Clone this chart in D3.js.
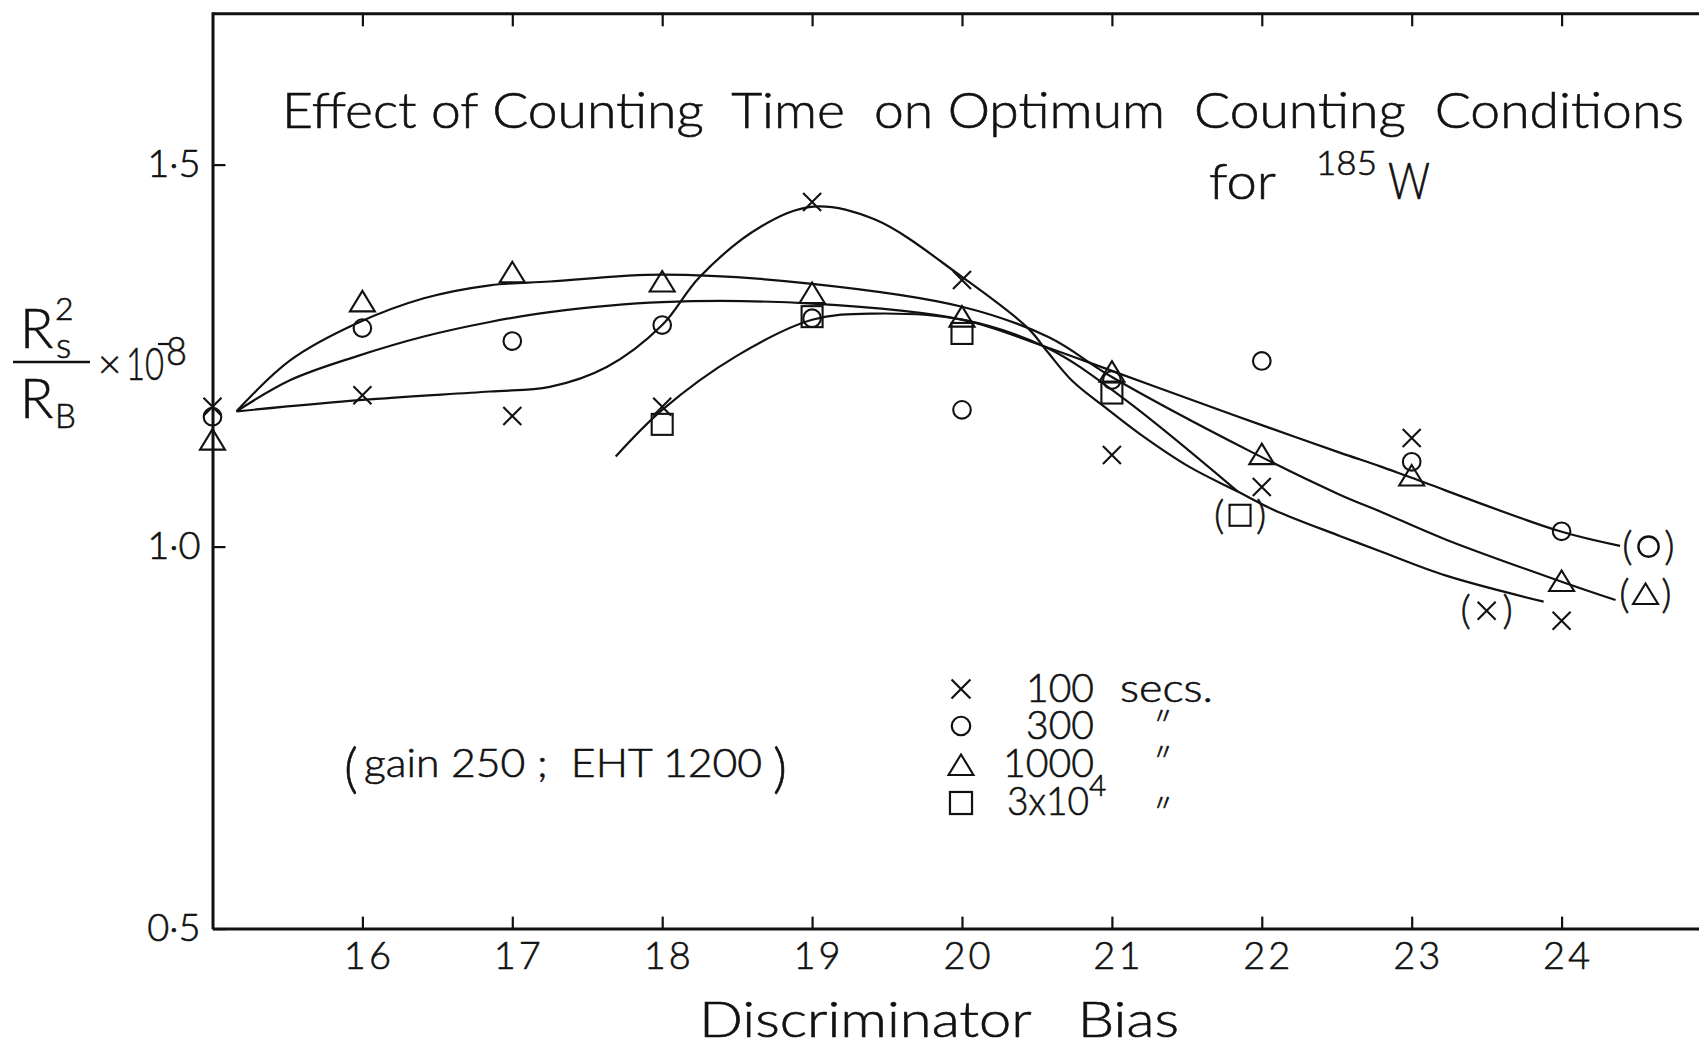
<!DOCTYPE html>
<html><head><meta charset="utf-8">
<script src="https://cdn.jsdelivr.net/npm/d3@7"></script>
<style>
html,body{margin:0;padding:0;background:#fff;}
svg{display:block;background:#fff;}
text{font-family:Lato,'Open Sans',sans-serif;font-weight:300;fill:#111;stroke:#111;stroke-width:0.6px;white-space:pre;}
</style></head><body>
<svg id="chart" width="1699" height="1048"></svg>
<script>
// ---------- data ----------
const bias = [15, 16, 17, 18, 19, 20, 21, 22, 23, 24];
const ratio100s  = [1.183, 1.198, 1.171, 1.183, 1.451, 1.349, 1.120, 1.078, 1.142, 0.903];
const ratio300s  = [1.170, 1.286, 1.269, 1.290, 1.299, 1.179, 1.218, 1.243, 1.111, 1.020];
const ratio1000s = [1.140, 1.321, 1.359, 1.347, 1.332, 1.301, 1.229, 1.121, 1.093, 0.955];
const bias3e4    = [18, 19, 20, 21, 21.855];
const ratio3e4s  = [1.160, 1.301, 1.279, 1.201, 1.041];

// hand-drawn fitted curves, [bias, ratio]
const curve100s = [[15.16,1.177],[16.0,1.192],[16.85,1.203],[17.25,1.209],[17.63,1.235],[18.0,1.290],[18.25,1.353],[18.66,1.419],[19.01,1.445],[19.42,1.428],[20.0,1.353],[20.44,1.286],[20.57,1.255],[20.74,1.216],[20.97,1.180],[21.19,1.147],[21.52,1.104],[21.84,1.072],[22.08,1.048],[22.52,1.014],[22.79,0.994],[23.23,0.962],[23.88,0.928]];
const curve300s = [[15.16,1.177],[15.52,1.218],[15.96,1.249],[16.41,1.275],[16.85,1.294],[17.25,1.307],[18.0,1.320],[19.0,1.318],[20.0,1.297],[20.55,1.262],[21.0,1.230],[21.59,1.188],[22.0,1.159],[22.52,1.123],[22.79,1.105],[23.0,1.090],[23.99,1.020],[24.39,1.001]];
const curve1000s = [[15.16,1.177],[15.52,1.244],[15.96,1.292],[16.41,1.325],[16.85,1.342],[17.25,1.347],[18.0,1.356],[19.0,1.344],[20.0,1.314],[20.58,1.274],[21.0,1.222],[21.94,1.123],[22.52,1.068],[22.79,1.046],[23.23,1.009],[24.0,0.954],[24.36,0.930]];
const curve3e4s = [[17.69,1.118],[18.0,1.179],[18.5,1.250],[19.0,1.297],[19.42,1.305],[20.0,1.297],[20.57,1.260],[21.07,1.195],[21.84,1.072]];

// end-of-curve identification labels: [bias, ratio, marker]
const curveTags = [[24.58, 1.000, "o"], [24.56, 0.938, "t"], [23.50, 0.916, "x"], [21.855, 1.041, "none"]];

const xTickValues = [16, 17, 18, 19, 20, 21, 22, 23, 24];
const yTickValues = [0.5, 1.0, 1.5];
const yTickLabels = ["0·5", "1·0", "1·5"];

const legendMarks  = ["x", "o", "t", "s"];
const legendTimes  = ["100", "300", "1000", "3x10"];

// ---------- layout ----------
const svg = d3.select("#chart");
const ink = "#111";
const xs = d3.scaleLinear().domain([15, 24.92]).range([212.5, 1699.5]);
const ys = d3.scaleLinear().domain([0.5, 1.7]).range([928.6, 11.8]);

function marker(g, kind, cx, cy, sc = 1) {
  const m = g.append("g").attr("transform", `translate(${cx},${cy}) scale(${sc})`)
    .attr("fill", "none").attr("stroke", ink).attr("stroke-width", 2.1);
  if (kind === "x") m.append("path").attr("d", "M-9,-9L9,9M-9,9L9,-9");
  else if (kind === "o") m.append("circle").attr("r", 8.8);
  else if (kind === "t") m.append("path").attr("d", "M0,-10.5L12.5,10L-12.5,10Z");
  else if (kind === "s") m.append("rect").attr("x", -10.5).attr("y", -10.5).attr("width", 21).attr("height", 21);
}

// axes frame
const axG = svg.append("g");
const axisB = d3.axisBottom(xs).tickValues(xTickValues).tickSize(-12).tickSizeOuter(0).tickPadding(13).tickFormat(d3.format("d"));
axG.append("g").attr("transform", `translate(0,${ys(0.5)})`).call(axisB)
  .call(g => g.select(".domain").attr("stroke", ink).attr("stroke-width", 3))
  .call(g => g.selectAll(".tick line").attr("stroke", ink).attr("stroke-width", 2.2))
  .call(g => g.selectAll(".tick text").attr("font-size", 38).attr("font-family", "Lato,sans-serif").attr("fill", ink).attr("letter-spacing", 3).attr("dx", 6));
const axisT = d3.axisTop(xs).tickValues(xTickValues).tickSize(-13).tickSizeOuter(0).tickFormat("");
axG.append("g").attr("transform", `translate(0,${ys(1.698)})`).call(axisT)
  .call(g => g.select(".domain").attr("stroke", ink).attr("stroke-width", 3))
  .call(g => g.selectAll(".tick line").attr("stroke", ink).attr("stroke-width", 2.2));
const axisL = d3.axisLeft(ys).tickValues(yTickValues).tickSize(-13).tickSizeOuter(0).tickPadding(12)
  .tickFormat((d, i) => yTickLabels[i]);
axG.append("g").attr("transform", `translate(${xs(15)},0)`).call(axisL)
  .call(g => g.select(".domain").attr("stroke", ink).attr("stroke-width", 3))
  .call(g => g.selectAll(".tick line").attr("stroke", ink).attr("stroke-width", 2.2))
  .call(g => g.selectAll(".tick text").attr("font-size", 38).attr("font-family", "Lato,sans-serif").attr("fill", ink));

// curves
const line = d3.line().x(d => xs(d[0])).y(d => ys(d[1])).curve(d3.curveCatmullRom.alpha(0.5));
[curve100s, curve300s, curve1000s, curve3e4s].forEach(c => {
  svg.append("path").attr("d", line(c)).attr("fill", "none").attr("stroke", ink).attr("stroke-width", 2.2);
});

// points
const pts = svg.append("g");
bias.forEach((b, i) => marker(pts, "x", xs(b), ys(ratio100s[i])));
bias.forEach((b, i) => marker(pts, "o", xs(b), ys(ratio300s[i])));
bias.forEach((b, i) => marker(pts, "t", xs(b), ys(ratio1000s[i])));
bias3e4.forEach((b, i) => marker(pts, "s", xs(b), ys(ratio3e4s[i])));

// curve tags "(o)" "(△)" "(x)" "(□)"
curveTags.forEach(([b, r, k]) => {
  const cx = xs(b), cy = ys(r);
  const t = svg.append("text").attr("y", cy).attr("dy", "0.34em").attr("font-size", 40).attr("text-anchor", "middle");
  t.append("tspan").attr("x", cx - 21).text("(");
  t.append("tspan").attr("x", cx + 21).text(")");
  if (k !== "none") marker(svg, k, cx, cy, k === "o" ? 1.15 : 1.0);
});

// title
svg.append("text").attr("x", 282).attr("y", 128).attr("font-size", 49)
  .attr("textLength", 1402).attr("lengthAdjust", "spacingAndGlyphs")
  .text("Effect of Counting  Time  on Optimum  Counting  Conditions");
const t2 = svg.append("text").attr("x", 1209).attr("y", 199).attr("font-size", 49);
t2.append("tspan").attr("x", 1209).attr("y", 199).attr("textLength", 67).attr("lengthAdjust", "spacingAndGlyphs").text("for");
t2.append("tspan").attr("x", 1316).attr("y", 175).attr("font-size", 34).attr("textLength", 61).attr("lengthAdjust", "spacingAndGlyphs").text("185");
t2.append("tspan").attr("x", 1388).attr("y", 199).attr("font-size", 51).attr("textLength", 42).attr("lengthAdjust", "spacingAndGlyphs").text("W");

// y label  Rs^2/RB x10^-8
const yl = svg.append("g");
const num = yl.append("text").attr("font-size", 55);
num.append("tspan").attr("x", 20).attr("y", 348).text("R");
num.append("tspan").attr("x", 55).attr("y", 320).attr("font-size", 32).text("2");
num.append("tspan").attr("x", 56).attr("y", 358).attr("font-size", 36).text("s");
yl.append("line").attr("x1", 13).attr("x2", 90).attr("y1", 362).attr("y2", 362).attr("stroke", ink).attr("stroke-width", 2.5);
const den = yl.append("text").attr("font-size", 55);
den.append("tspan").attr("x", 20).attr("y", 418).text("R");
den.append("tspan").attr("x", 55).attr("y", 428).attr("font-size", 33).text("B");
const mult = yl.append("text").attr("font-size", 40);
mult.append("tspan").attr("x", 98).attr("y", 378).text("×");
mult.append("tspan").attr("x", 126).attr("y", 380).attr("font-size", 46).attr("textLength", 38).attr("lengthAdjust", "spacingAndGlyphs").text("10");
mult.append("tspan").attr("x", 166).attr("y", 365).attr("textLength", 21).attr("lengthAdjust", "spacingAndGlyphs").text("8");
yl.append("line").attr("x1", 158).attr("x2", 169).attr("y1", 344).attr("y2", 344).attr("stroke", ink).attr("stroke-width", 2.2);

// x label
svg.append("text").attr("x", 699).attr("y", 1037).attr("font-size", 49)
  .attr("textLength", 480).attr("lengthAdjust", "spacingAndGlyphs").text("Discriminator   Bias");

// annotation
const ann = svg.append("text").attr("font-size", 39);
ann.append("tspan").attr("x", 344).attr("y", 787).attr("font-size", 54).text("(");
ann.append("tspan").attr("x", 364).attr("y", 777).attr("textLength", 398).attr("lengthAdjust", "spacingAndGlyphs").text("gain 250 ;  EHT 1200");
ann.append("tspan").attr("x", 773).attr("y", 787).attr("font-size", 54).text(")");

// legend
const lg = svg.append("g");
const rowY = [702, 739, 777, 815];
const markY = [689, 726, 765, 803];
legendMarks.forEach((k, i) => marker(lg, k, 961, markY[i], k === "t" ? 1.0 : 1.05));
const numX = [1026, 1026, 1003, 1007];
const numW = [68, 68, 91, 82];
const lt = lg.append("text").attr("font-size", 40);
legendTimes.forEach((t, i) => {
  lt.append("tspan").attr("x", numX[i]).attr("y", rowY[i])
    .attr("textLength", numW[i]).attr("lengthAdjust", "spacingAndGlyphs").text(t);
});
lt.append("tspan").attr("x", 1089).attr("y", 796).attr("font-size", 30).text("4");
lt.append("tspan").attr("x", 1120).attr("y", 702).attr("textLength", 93).attr("lengthAdjust", "spacingAndGlyphs").text("secs.");
[739, 775, 826].forEach(yy => lt.append("tspan").attr("x", 1152).attr("y", yy).attr("font-size", 36).attr("font-style", "italic").text("″"));
</script>
</body></html>
